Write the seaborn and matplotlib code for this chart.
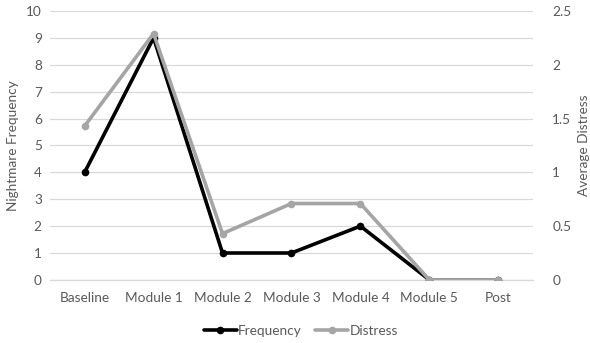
import matplotlib
matplotlib.use("Agg")
import matplotlib.pyplot as plt
import seaborn as sns
import pandas as pd
from matplotlib.lines import Line2D

categories = ["Baseline", "Module 1", "Module 2", "Module 3", "Module 4", "Module 5", "Post"]
frequency = [4, 9, 1, 1, 2, 0, 0]
distress = [1.43, 2.29, 0.43, 0.71, 0.71, 0, 0]

sns.set_theme(style="white")
plt.rcParams['font.family'] = ['Lato', 'DejaVu Sans']

TXT = "#595959"
GRID = "#d9d9d9"
C_FREQ = "#000000"
C_DIST = "#a5a5a5"
FS = 9.8

df = pd.DataFrame({"cat": categories, "freq": frequency, "dist": distress})

fig = plt.figure(figsize=(5.9, 3.43), dpi=100)
ax = fig.add_axes([0.085, 0.184, 0.818, 0.784])
ax2 = ax.twinx()

sns.lineplot(data=df, x="cat", y="freq", ax=ax, color=C_FREQ, lw=2.6,
             marker="o", markersize=5.5, markeredgewidth=0, sort=False, zorder=3)
sns.lineplot(data=df, x="cat", y="dist", ax=ax2, color=C_DIST, lw=2.6,
             marker="o", markersize=5.5, markeredgewidth=0, sort=False, zorder=4)

ax.set_xlim(-0.5, len(categories) - 0.5)
ax.set_ylim(0, 10)
ax2.set_ylim(0, 2.5)
ax.set_yticks(range(0, 11))
ax2.set_yticks([0, 0.5, 1, 1.5, 2, 2.5])
ax2.set_yticklabels(["0", "0.5", "1", "1.5", "2", "2.5"])

ax.grid(axis="y", color=GRID, lw=0.9)
ax.set_axisbelow(True)
for a in (ax, ax2):
    for s in a.spines.values():
        s.set_visible(False)
ax.spines["bottom"].set_visible(True)
ax.spines["bottom"].set_color(GRID)
ax.spines["bottom"].set_linewidth(0.9)

ax.set_xticks(range(len(categories)))
ax.set_xticklabels(categories)
ax.set_xticks([i - 0.5 for i in range(len(categories) + 1)], minor=True)
ax.tick_params(axis="x", which="major", length=0, pad=9, labelsize=FS, labelcolor=TXT)
ax.tick_params(axis="x", which="minor", length=4, color=GRID, width=0.9, direction="out")
ax.tick_params(axis="y", length=0, pad=6, labelsize=FS, labelcolor=TXT)
ax2.tick_params(axis="y", length=0, pad=14, labelsize=FS, labelcolor=TXT)

ax.set_xlabel("")
ax.set_ylabel("Nightmare Frequency", fontsize=FS, color=TXT, labelpad=5)
ax2.set_ylabel("Average Distress", fontsize=FS, color=TXT, labelpad=5)

handles = [Line2D([0], [0], color=C_FREQ, lw=2.6, marker="o", markersize=5.5, markeredgewidth=0),
           Line2D([0], [0], color=C_DIST, lw=2.6, marker="o", markersize=5.5, markeredgewidth=0)]
fig.legend(handles, ["Frequency", "Distress"], loc="center", bbox_to_anchor=(0.51, 0.035),
           ncol=2, frameon=False, fontsize=FS, labelcolor=TXT, handlelength=2.4,
           handletextpad=0.1, columnspacing=1.0)

fig.savefig("out.png", dpi=100)
